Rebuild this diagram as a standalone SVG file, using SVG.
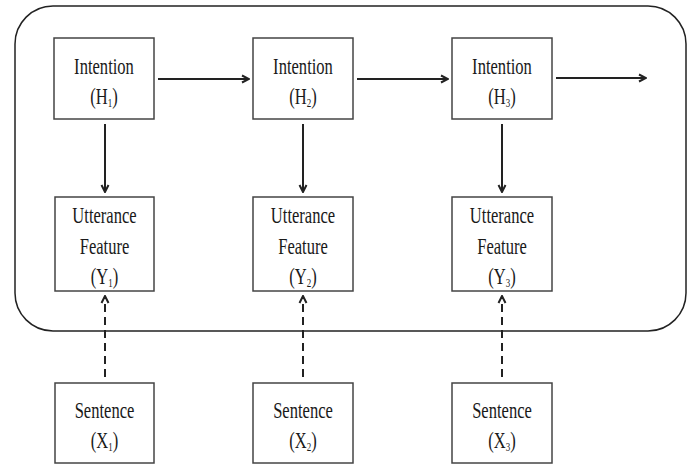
<svg xmlns="http://www.w3.org/2000/svg" width="692" height="466" viewBox="0 0 692 466">
<style>
.box{fill:#fff;stroke:#444;stroke-width:1.5}
.lbl{font-family:'Liberation Serif','DejaVu Serif',serif;font-size:24px;fill:#1a1a1a;text-anchor:middle}
.sub{font-size:13px}
.arr{fill:none;stroke:#222;stroke-width:2}
.dash{fill:none;stroke:#222;stroke-width:2;stroke-dasharray:8,5}
</style>
<defs>
<marker id="ah" viewBox="0 0 10 10" refX="9" refY="5" markerWidth="10" markerHeight="10" markerUnits="userSpaceOnUse" orient="auto">
<path d="M2,1.5 L9,5 L2,8.5" fill="none" stroke="#222" stroke-width="2"/>
</marker>
</defs>
<rect id="container" x="15" y="6" width="671" height="325" rx="38" ry="38" fill="none" stroke="#222" stroke-width="1.5"/>
<g id="connectors">
<line class="arr" x1="158" y1="79" x2="249" y2="79" marker-end="url(#ah)"/>
<line class="arr" x1="357" y1="79" x2="448" y2="79" marker-end="url(#ah)"/>
<line class="arr" x1="556" y1="78" x2="646" y2="78" marker-end="url(#ah)"/>
<line class="arr" x1="105" y1="124" x2="105" y2="192" marker-end="url(#ah)"/>
<line class="arr" x1="303" y1="124" x2="303" y2="192" marker-end="url(#ah)"/>
<line class="arr" x1="502" y1="124" x2="502" y2="192" marker-end="url(#ah)"/>
<line class="dash" x1="105" y1="377" x2="105" y2="296" marker-end="url(#ah)"/>
<line class="dash" x1="303" y1="377" x2="303" y2="296" marker-end="url(#ah)"/>
<line class="dash" x1="502" y1="377" x2="502" y2="296" marker-end="url(#ah)"/>
</g>
<g id="H1">
<rect class="box" x="54" y="38" width="100" height="81"/>
<text class="lbl" font-family="Liberation Serif, serif" transform="translate(104,73.5) scale(0.69,1)">Intention</text>
<text class="lbl" font-family="Liberation Serif, serif" transform="translate(104,104) scale(0.69,1)">(H<tspan class="sub" dy="3">1</tspan><tspan dy="-3">)</tspan></text>
</g>
<g id="H2">
<rect class="box" x="253" y="38" width="100" height="81"/>
<text class="lbl" font-family="Liberation Serif, serif" transform="translate(303,73.5) scale(0.69,1)">Intention</text>
<text class="lbl" font-family="Liberation Serif, serif" transform="translate(303,104) scale(0.69,1)">(H<tspan class="sub" dy="3">2</tspan><tspan dy="-3">)</tspan></text>
</g>
<g id="H3">
<rect class="box" x="452" y="38" width="100" height="81"/>
<text class="lbl" font-family="Liberation Serif, serif" transform="translate(502,73.5) scale(0.69,1)">Intention</text>
<text class="lbl" font-family="Liberation Serif, serif" transform="translate(502,104) scale(0.69,1)">(H<tspan class="sub" dy="3">3</tspan><tspan dy="-3">)</tspan></text>
</g>
<g id="Y1">
<rect class="box" x="55" y="197" width="99" height="94"/>
<text class="lbl" font-family="Liberation Serif, serif" transform="translate(104.5,223) scale(0.69,1)">Utterance</text>
<text class="lbl" font-family="Liberation Serif, serif" transform="translate(104.5,254) scale(0.69,1)">Feature</text>
<text class="lbl" font-family="Liberation Serif, serif" transform="translate(104.5,284) scale(0.69,1)">(Y<tspan class="sub" dy="3">1</tspan><tspan dy="-3">)</tspan></text>
</g>
<g id="Y2">
<rect class="box" x="253" y="197" width="100" height="94"/>
<text class="lbl" font-family="Liberation Serif, serif" transform="translate(303,223) scale(0.69,1)">Utterance</text>
<text class="lbl" font-family="Liberation Serif, serif" transform="translate(303,254) scale(0.69,1)">Feature</text>
<text class="lbl" font-family="Liberation Serif, serif" transform="translate(303,284) scale(0.69,1)">(Y<tspan class="sub" dy="3">2</tspan><tspan dy="-3">)</tspan></text>
</g>
<g id="Y3">
<rect class="box" x="452" y="197" width="100" height="94"/>
<text class="lbl" font-family="Liberation Serif, serif" transform="translate(502,223) scale(0.69,1)">Utterance</text>
<text class="lbl" font-family="Liberation Serif, serif" transform="translate(502,254) scale(0.69,1)">Feature</text>
<text class="lbl" font-family="Liberation Serif, serif" transform="translate(502,284) scale(0.69,1)">(Y<tspan class="sub" dy="3">3</tspan><tspan dy="-3">)</tspan></text>
</g>
<g id="X1">
<rect class="box" x="55" y="383" width="99" height="80"/>
<text class="lbl" font-family="Liberation Serif, serif" transform="translate(104.5,418) scale(0.69,1)">Sentence</text>
<text class="lbl" font-family="Liberation Serif, serif" transform="translate(104.5,448) scale(0.69,1)">(X<tspan class="sub" dy="3">1</tspan><tspan dy="-3">)</tspan></text>
</g>
<g id="X2">
<rect class="box" x="253" y="383" width="100" height="80"/>
<text class="lbl" font-family="Liberation Serif, serif" transform="translate(303,418) scale(0.69,1)">Sentence</text>
<text class="lbl" font-family="Liberation Serif, serif" transform="translate(303,448) scale(0.69,1)">(X<tspan class="sub" dy="3">2</tspan><tspan dy="-3">)</tspan></text>
</g>
<g id="X3">
<rect class="box" x="452" y="383" width="100" height="80"/>
<text class="lbl" font-family="Liberation Serif, serif" transform="translate(502,418) scale(0.69,1)">Sentence</text>
<text class="lbl" font-family="Liberation Serif, serif" transform="translate(502,448) scale(0.69,1)">(X<tspan class="sub" dy="3">3</tspan><tspan dy="-3">)</tspan></text>
</g>
</svg>
